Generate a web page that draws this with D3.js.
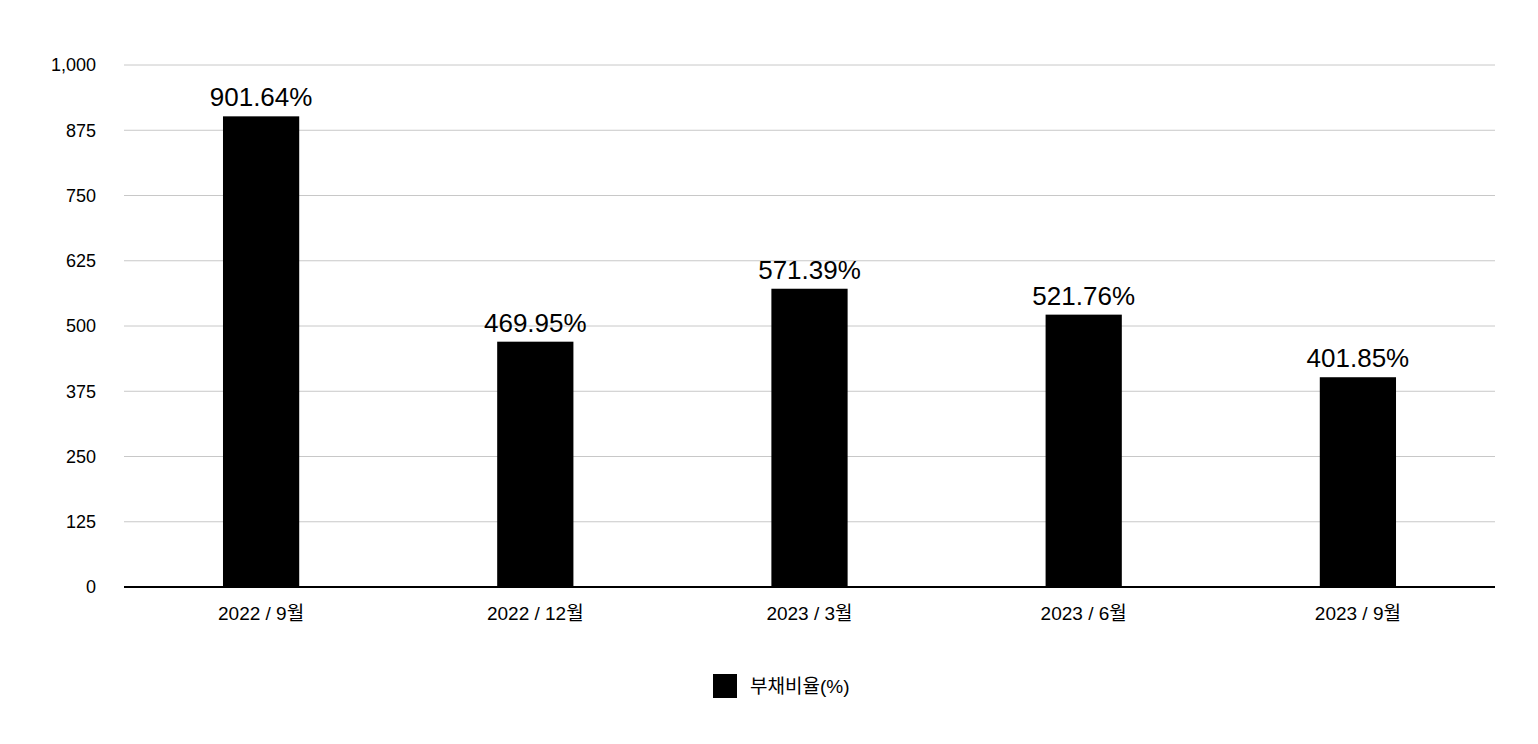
<!DOCTYPE html>
<html><head><meta charset="utf-8">
<script src="https://cdn.jsdelivr.net/npm/d3@7"></script>
<style>body{margin:0;background:#fff}text{font-family:"Liberation Sans","Noto Sans CJK KR",sans-serif}</style>
</head><body><svg id="chart" width="1538" height="744"></svg>
<script>
const categories = ["2022 / 9월", "2022 / 12월", "2023 / 3월", "2023 / 6월", "2023 / 9월"];
const values = [901.64, 469.95, 571.39, 521.76, 401.85];
const ticks = [0, 125, 250, 375, 500, 625, 750, 875, 1000];
const seriesName = "부채비율(%)";

const svg = d3.select("#chart");
const plotLeft = 124, plotRight = 1495, plotTop = 65, plotBottom = 587;

const x = d3.scaleBand().domain(categories).range([plotLeft, plotRight]).paddingInner(0.722).paddingOuter(0.361);
const y = d3.scaleLinear().domain([0, 1000]).range([plotBottom, plotTop]);

// gridlines
svg.append("g").selectAll("line").data(ticks.filter(d => d > 0)).join("line")
  .attr("x1", plotLeft).attr("x2", plotRight)
  .attr("y1", d => y(d)).attr("y2", d => y(d))
  .attr("stroke", "#c8c8c8").attr("stroke-width", 1);

// y tick labels
svg.append("g").selectAll("text").data(ticks).join("text")
  .attr("x", 96).attr("y", d => y(d)).attr("dy", "0.35em")
  .attr("text-anchor", "end").attr("font-size", 18).text(d3.format(","));

// bars
svg.append("g").selectAll("rect").data(values).join("rect")
  .attr("x", (d, i) => x(categories[i])).attr("width", x.bandwidth())
  .attr("y", d => y(d)).attr("height", d => plotBottom - y(d)).attr("fill", "#000");

// value labels
svg.append("g").selectAll("text").data(values).join("text")
  .attr("x", (d, i) => x(categories[i]) + x.bandwidth() / 2)
  .attr("y", d => y(d) - 10).attr("text-anchor", "middle").attr("font-size", 26)
  .text(d => d.toFixed(2) + "%");

// baseline
svg.append("line").attr("x1", plotLeft).attr("x2", plotRight).attr("y1", plotBottom).attr("y2", plotBottom)
  .attr("stroke", "#000").attr("stroke-width", 2);

// x labels
svg.append("g").selectAll("text").data(categories).join("text")
  .attr("x", d => x(d) + x.bandwidth() / 2).attr("y", 620)
  .attr("text-anchor", "middle").attr("font-size", 19).text(d => d);

// legend
svg.append("rect").attr("x", 713).attr("y", 674).attr("width", 24).attr("height", 24).attr("fill", "#000");
svg.append("text").attr("x", 750).attr("y", 686).attr("dy", "0.35em").attr("font-size", 19).text(seriesName);
</script></body></html>
